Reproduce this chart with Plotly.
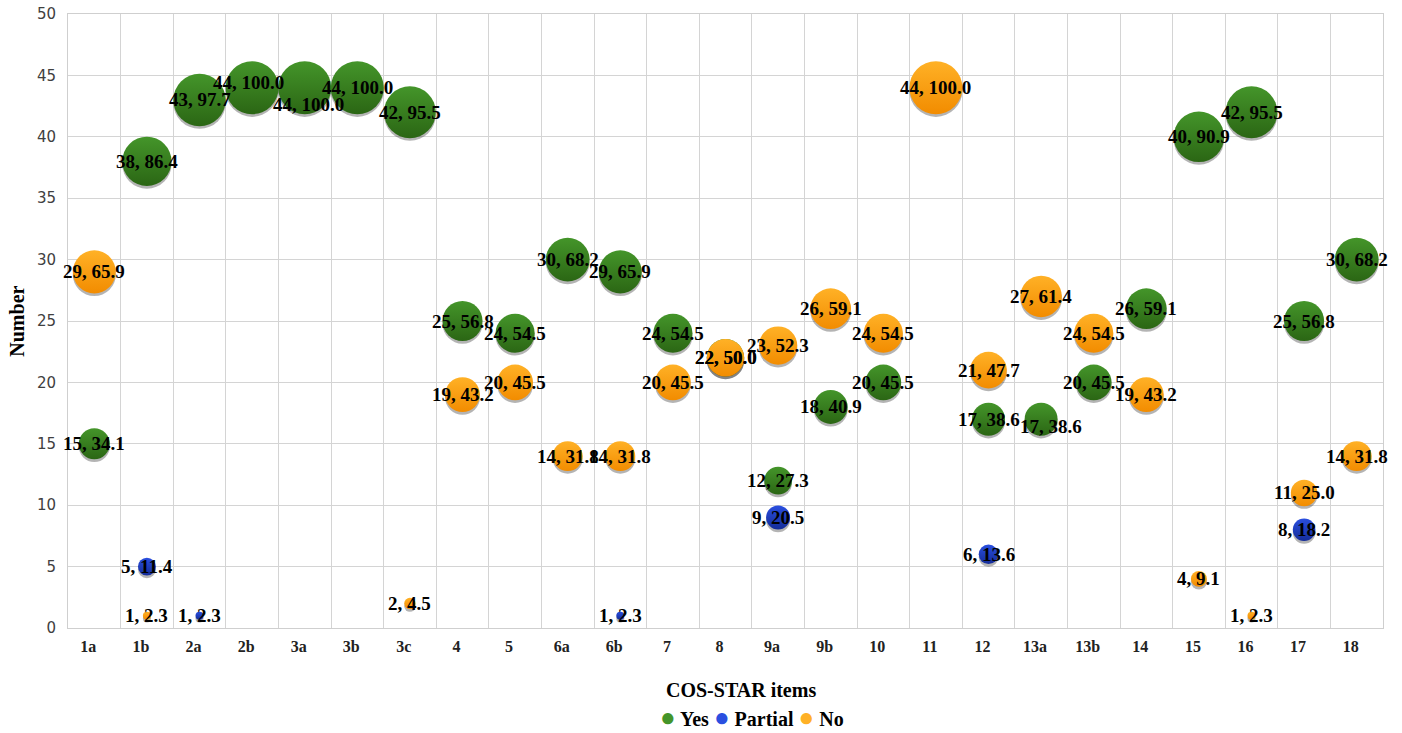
import plotly.graph_objects as go

categories = ["1a", "1b", "2a", "2b", "3a", "3b", "3c", "4", "5", "6a", "6b", "7", "8",
              "9a", "9b", "10", "11", "12", "13a", "13b", "14", "15", "16", "17", "18"]

# None = category has no bubble for that answer
yes_n = [15, 38, 43, 44, 44, 44, 42, 25, 24, 30, 29, 24, 22, 12, 18, 20, None, 17, 17, 20, 26, 40, 42, 25, 30]
yes_pct = [34.1, 86.4, 97.7, 100.0, 100.0, 100.0, 95.5, 56.8, 54.5, 68.2, 65.9, 54.5, 50.0, 27.3, 40.9, 45.5,
           None, 38.6, 38.6, 45.5, 59.1, 90.9, 95.5, 56.8, 68.2]

partial_n = [None, 5, 1, None, None, None, None, None, None, None, 1, None, None, 9, None, None, None, 6,
             None, None, None, None, None, 8, None]
partial_pct = [None, 11.4, 2.3, None, None, None, None, None, None, None, 2.3, None, None, 20.5, None, None,
               None, 13.6, None, None, None, None, None, 18.2, None]

no_n = [29, 1, None, None, None, None, 2, 19, 20, 14, 14, 20, 22, 23, 26, 24, 44, 21, 27, 24, 19, 4, 1, 11, 14]
no_pct = [65.9, 2.3, None, None, None, None, 4.5, 43.2, 45.5, 31.8, 31.8, 45.5, 50.0, 52.3, 59.1, 54.5, 100.0,
          47.7, 61.4, 54.5, 43.2, 9.1, 2.3, 25.0, 31.8]

series = [
    ("Yes", yes_n, yes_pct, "#44952a", "#2b6614"),
    ("Partial", partial_n, partial_pct, "#2a4fe0", "#142c98"),
    ("No", no_n, no_pct, "#ffb126", "#f28c00"),
]

# pixel nudges for a few data labels (as placed in the original chart)
label_nudge = {("Yes", "2b"): (-4, 5), ("Yes", "3a"): (4, -17), ("Yes", "13a"): (10, -7)}

MAX_N = 44
MAX_DIAM = 53
sizeref = 2.0 * MAX_N / MAX_DIAM ** 2
SHADOW_DY = 0.22  # drop shadow offset in axis units (~3px)

serif = "Liberation Serif"

fig = go.Figure()
label_annotations = []
for name, ns, pcts, c1, c2 in series:
    xs, ys = [], []
    for i, (n, p) in enumerate(zip(ns, pcts)):
        if n is None:
            continue
        xs.append(i)
        ys.append(n)
        dx, dy = label_nudge.get((name, categories[i]), (0, 0))
        label_annotations.append(dict(
            x=i, y=n, xref="x", yref="y", text=f"{n}, {p:.1f}", showarrow=False,
            xanchor="center", yanchor="middle", xshift=dx, yshift=dy,
            font=dict(family=serif, size=19, color="black", weight="bold"),
        ))
    # soft drop shadow
    fig.add_trace(go.Scatter(
        x=xs, y=[v - SHADOW_DY for v in ys], mode="markers", showlegend=False, hoverinfo="skip",
        marker=dict(size=ys, sizemode="area", sizeref=sizeref, color="rgba(40,40,40,0.35)",
                    opacity=1, line=dict(width=0)),
        cliponaxis=False,
    ))
    fig.add_trace(go.Scatter(
        x=xs, y=ys, mode="markers", name=name, showlegend=False,
        marker=dict(size=ys, sizemode="area", sizeref=sizeref, color=c1, opacity=1,
                    gradient=dict(type="vertical", color=c2),
                    line=dict(width=0)),
        cliponaxis=False,
    ))

legend_html = " ".join(
    f"<span style='color:{c1};font-size:26px'>●</span> {name}" for name, _, _, c1, _ in series
)

fig.update_layout(
    width=1402, height=733,
    margin=dict(l=68, r=19, t=14, b=105, autoexpand=False),
    paper_bgcolor="white", plot_bgcolor="white",
    showlegend=False,
    annotations=label_annotations + [
        dict(text="COS-STAR items", xref="paper", yref="paper", x=0.512, y=-0.101,
             xanchor="center", yanchor="middle", showarrow=False,
             font=dict(family=serif, size=20, color="black", weight="bold")),
        dict(text=legend_html, xref="paper", yref="paper", x=0.52, y=-0.146,
             xanchor="center", yanchor="middle", showarrow=False,
             font=dict(family=serif, size=20, color="black", weight="bold")),
        dict(text="Number", xref="paper", yref="paper", x=-0.039, y=0.5, textangle=-90,
             xanchor="center", yanchor="middle", showarrow=False,
             font=dict(family=serif, size=20, color="black", weight="bold")),
    ],
    xaxis=dict(
        range=[-0.5, len(categories) - 0.5],
        tickmode="array", tickvals=list(range(len(categories))), ticktext=categories,
        tickfont=dict(family=serif, size=16, color="#222", weight="bold"),
        showgrid=False, zeroline=False,
        showline=True, linecolor="#cfcfcf", linewidth=1, mirror=True,
        ticks="", ticklabelshift=-6, ticklabelstandoff=4, automargin=False,
        minor=dict(tick0=0.5, dtick=1, showgrid=True, gridcolor="#d4d4d4", gridwidth=1, ticks=""),
    ),
    yaxis=dict(
        range=[0, 50], tickmode="linear", tick0=0, dtick=5,
        tickfont=dict(family="DejaVu Sans", size=15, color="#404040"),
        showgrid=True, gridcolor="#d4d4d4", gridwidth=1, zeroline=False,
        showline=True, linecolor="#cfcfcf", linewidth=1, mirror=True,
        ticks="", ticklabelstandoff=8, automargin=False,
    ),
)

fig.write_html("out.html", config={"displayModeBar": False},
               post_script="document.body.style.margin='0';document.body.style.overflow='hidden';")
